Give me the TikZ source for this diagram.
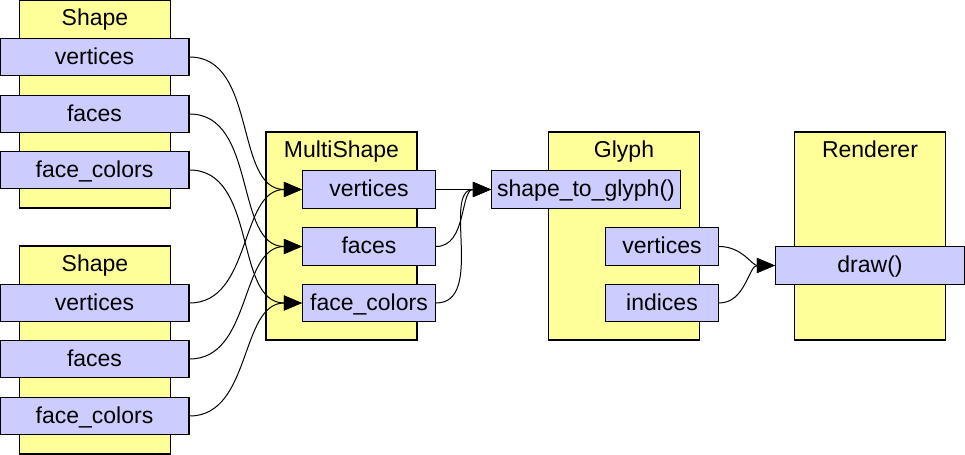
\documentclass[tikz,border=0pt]{standalone}
\usepackage{fontspec}
\setmainfont{Liberation Sans}
\usetikzlibrary{arrows.meta,positioning}
\definecolor{clsyellow}{HTML}{FFFF99}
\definecolor{fldblue}{HTML}{CCCCFF}
\tikzset{
  >={Triangle[length=9pt,width=7.5pt]},
  % klasser
  cls/.style={draw=black,fill=clsyellow,line width=0.6pt,inner sep=0pt,
              minimum width=75.5pt,minimum height=104pt},
  ttl/.style={inner sep=0pt,text height=8pt,text depth=1pt,
              font=\fontsize{11.5}{13}\selectfont},
  % fält
  fld/.style={draw=black,fill=fldblue,line width=0.6pt,inner sep=0pt,
              minimum height=18.75pt,text height=8pt,text depth=1pt,
              font=\fontsize{11.5}{13}\selectfont},
  wide/.style={fld,minimum width=94.5pt},
  mid/.style={fld,minimum width=66.5pt},
  short/.style={fld,minimum width=56.5pt},
  lnk/.style={->,draw=black,line width=0.5pt},
}
\begin{document}
\begin{tikzpicture}[x=0.5pt,y=-0.5pt]
\useasboundingbox (0,0) rectangle (965,455);
  % klasser
  \node[cls] (s1) at (95,104) {};
  \node[cls] (s2) at (95,350) {};
  \node[cls] (ms) at (341.5,236) {};
  \node[cls] (gl) at (624,236) {};
  \node[cls] (rd) at (870,236) {};
  \node[ttl,below=5pt of s1.north] {Shape};
  \node[ttl,below=5pt of s2.north] {Shape};
  \node[ttl,below=5pt of ms.north] {MultiShape};
  \node[ttl,below=5pt of gl.north] {Glyph};
  \node[ttl,below=5pt of rd.north] {Renderer};
  % fält
  \node[wide] (s1v) at (94.5,57) {vertices};
  \node[wide] (s1f) at (94.5,114) {faces};
  \node[wide] (s1c) at (94.5,170) {face\_colors};
  \node[wide] (s2v) at (94.5,303) {vertices};
  \node[wide] (s2f) at (94.5,359) {faces};
  \node[wide] (s2c) at (94.5,416) {face\_colors};
  \node[mid] (mv) at (369,189.5) {vertices};
  \node[mid] (mf) at (369,246.5) {faces};
  \node[mid] (mc) at (369,303) {face\_colors};
  \node[wide] (stg) at (586,189.5) {shape\_to\_glyph()};
  \node[short] (gv) at (662,246.5) {vertices};
  \node[short] (gi) at (662,303) {indices};
  \node[wide] (dr) at (870,265.5) {draw()};
  % kopplingar
  \draw[lnk] (s1v.east) to[out=0,in=180] (mv.west);
  \draw[lnk] (s1f.east) to[out=0,in=180] (mf.west);
  \draw[lnk] (s1c.east) to[out=0,in=180] (mc.west);
  \draw[lnk] (s2v.east) to[out=0,in=180] (mv.west);
  \draw[lnk] (s2f.east) to[out=0,in=180] (mf.west);
  \draw[lnk] (s2c.east) to[out=0,in=180] (mc.west);
  \draw[lnk] (mv.east) to[out=0,in=180] (stg.west);
  \draw[lnk] (mf.east) to[out=0,in=180] (stg.west);
  \draw[lnk] (mc.east) to[out=0,in=180] (stg.west);
  \draw[lnk] (gv.east) to[out=0,in=180] (dr.west);
  \draw[lnk] (gi.east) to[out=0,in=180] (dr.west);
\end{tikzpicture}
\end{document}
